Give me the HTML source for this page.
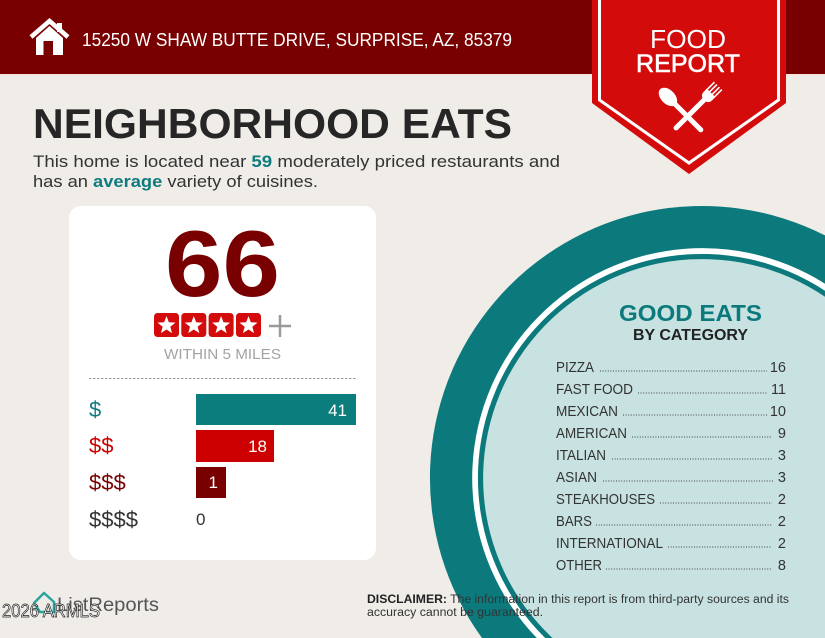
<!DOCTYPE html>
<html><head><meta charset="utf-8"><style>
html,body{margin:0;padding:0;background:#f0ede9;width:825px;height:638px;overflow:hidden;}
svg{display:block;}
text{font-family:"Liberation Sans",sans-serif;}
</style></head><body>
<svg width="825" height="638" viewBox="0 0 825 638" xmlns="http://www.w3.org/2000/svg">
<rect x="0" y="0" width="825" height="638" fill="#f0ede9"/>
<!-- header band -->
<rect x="0" y="0" width="825" height="74" fill="#780000"/>
<rect x="0" y="74" width="825" height="2" fill="#f6e4e0"/>
<!-- house icon -->
<polyline points="31,37 49.5,21 68,37" fill="none" stroke="#fff" stroke-width="4.5" stroke-linejoin="miter"/>
<rect x="57" y="23" width="5" height="9" fill="#fff"/>
<polygon points="36,38 49.5,26 63,38 63,55 36,55" fill="#fff"/>
<rect x="43.5" y="41" width="9.5" height="14" fill="#780000"/>
<text x="82" y="46" font-size="18" fill="#fff" textLength="430" lengthAdjust="spacingAndGlyphs">15250 W SHAW BUTTE DRIVE, SURPRISE, AZ, 85379</text>

<!-- badge -->
<polygon points="592,0 786,0 786,103 689,174 592,103" fill="#d40b0b"/>
<polyline points="599.5,0 599.5,100 689,163 778.5,100 778.5,0" fill="none" stroke="#fff" stroke-width="3"/>
<text x="650" y="48" font-size="26" fill="#fff" textLength="76" lengthAdjust="spacingAndGlyphs">FOOD</text>
<text x="636" y="72" font-size="25" fill="#fff" stroke="#fff" stroke-width="0.6" textLength="104" lengthAdjust="spacingAndGlyphs">REPORT</text>
<!-- spoon -->
<g transform="translate(675,104) rotate(-45)" fill="#fff">
  <ellipse cx="0" cy="-10" rx="7" ry="11"/>
  <rect x="-2.5" y="-2" width="5" height="41" rx="2.5"/>
</g>
<!-- fork -->
<g transform="translate(704,100) rotate(45)" fill="#fff" stroke="#fff">
  <rect x="-2.5" y="-2" width="5" height="44" rx="2.5" stroke="none"/>
  <path d="M-6,-10 L6,-10 L6,-6 Q6,0 0,0 Q-6,0 -6,-6 Z" stroke="none"/>
  <line x1="-5.2" y1="-20" x2="-5.2" y2="-9" stroke-width="1.6"/>
  <line x1="-1.8" y1="-20" x2="-1.8" y2="-9" stroke-width="1.6"/>
  <line x1="1.8" y1="-20" x2="1.8" y2="-9" stroke-width="1.6"/>
  <line x1="5.2" y1="-20" x2="5.2" y2="-9" stroke-width="1.6"/>
</g>

<!-- title and paragraph -->
<text x="33" y="138" font-size="42" font-weight="bold" fill="#262626" textLength="479" lengthAdjust="spacingAndGlyphs">NEIGHBORHOOD EATS</text>
<text x="33" y="167" font-size="16.5" fill="#333" textLength="527" lengthAdjust="spacingAndGlyphs">This home is located near <tspan font-weight="bold" fill="#0e7c7e">59</tspan> moderately priced restaurants and</text>
<text x="33" y="187" font-size="16.5" fill="#333" textLength="285" lengthAdjust="spacingAndGlyphs">has an <tspan font-weight="bold" fill="#0e7c7e">average</tspan> variety of cuisines.</text>

<!-- circle (clipped to frame) -->
<path d="M482,638 A272,272 0 0 1 825,235.4 L825,638 Z" fill="#0c7a7c"/>
<path d="M536.8,638 A230,230 0 0 1 825,283.7 L825,638 Z" fill="#ffffff"/>
<path d="M545.2,638 A224,224 0 0 1 825,290.8 L825,638 Z" fill="#0c7a7c"/>
<path d="M552.5,638 A219,219 0 0 1 825,296.8 L825,638 Z" fill="#c7e2e0"/>

<text x="619" y="321" font-size="23" font-weight="bold" fill="#0c7a7c" textLength="143" lengthAdjust="spacingAndGlyphs">GOOD EATS</text>
<text x="633" y="340" font-size="16" font-weight="bold" fill="#222" textLength="115" lengthAdjust="spacingAndGlyphs">BY CATEGORY</text>

<g font-size="14.5" fill="#333">
<text x="556" y="372" textLength="38" lengthAdjust="spacingAndGlyphs">PIZZA</text>
<text x="786" y="372" text-anchor="end">16</text>
<text x="556" y="394" textLength="77" lengthAdjust="spacingAndGlyphs">FAST FOOD</text>
<text x="786" y="394" text-anchor="end">11</text>
<text x="556" y="416" textLength="62" lengthAdjust="spacingAndGlyphs">MEXICAN</text>
<text x="786" y="416" text-anchor="end">10</text>
<text x="556" y="438" textLength="71" lengthAdjust="spacingAndGlyphs">AMERICAN</text>
<text x="786" y="438" text-anchor="end">9</text>
<text x="556" y="460" textLength="50" lengthAdjust="spacingAndGlyphs">ITALIAN</text>
<text x="786" y="460" text-anchor="end">3</text>
<text x="556" y="482" textLength="41" lengthAdjust="spacingAndGlyphs">ASIAN</text>
<text x="786" y="482" text-anchor="end">3</text>
<text x="556" y="504" textLength="99" lengthAdjust="spacingAndGlyphs">STEAKHOUSES</text>
<text x="786" y="504" text-anchor="end">2</text>
<text x="556" y="526" textLength="36" lengthAdjust="spacingAndGlyphs">BARS</text>
<text x="786" y="526" text-anchor="end">2</text>
<text x="556" y="548" textLength="107" lengthAdjust="spacingAndGlyphs">INTERNATIONAL</text>
<text x="786" y="548" text-anchor="end">2</text>
<text x="556" y="570" textLength="46" lengthAdjust="spacingAndGlyphs">OTHER</text>
<text x="786" y="570" text-anchor="end">8</text>
</g>
<g stroke="#444" stroke-width="1.1" stroke-dasharray="1 1.6">
<line x1="600" y1="371" x2="767" y2="371"/>
<line x1="638" y1="393" x2="768" y2="393"/>
<line x1="623" y1="415" x2="767" y2="415"/>
<line x1="632" y1="437" x2="772" y2="437"/>
<line x1="612" y1="459" x2="773" y2="459"/>
<line x1="603" y1="481" x2="773" y2="481"/>
<line x1="660" y1="503" x2="772" y2="503"/>
<line x1="596" y1="525" x2="772" y2="525"/>
<line x1="668" y1="547" x2="772" y2="547"/>
<line x1="606" y1="569" x2="772" y2="569"/>
</g>

<!-- disclaimer -->
<text x="367" y="603" font-size="11.5" fill="#333" textLength="422" lengthAdjust="spacingAndGlyphs"><tspan font-weight="bold" fill="#222">DISCLAIMER:</tspan> The information in this report is from third-party sources and its</text>
<text x="367" y="616" font-size="11.5" fill="#333" textLength="176" lengthAdjust="spacingAndGlyphs">accuracy cannot be guaranteed.</text>

<!-- card -->
<rect x="69" y="206" width="307" height="354" rx="12" fill="#ffffff"/>
<text x="165" y="296" font-size="94" font-weight="bold" fill="#780000" textLength="115" lengthAdjust="spacingAndGlyphs">66</text>
<defs>
<polygon id="st" points="0,-9.5 2.351,-3.236 9.035,-2.936 3.804,1.236 5.584,7.686 0,4 -5.584,7.686 -3.804,1.236 -9.035,-2.936 -2.351,-3.236" fill="#fff"/>
</defs>
<rect x="154" y="313" width="25" height="24" rx="3.5" fill="#d40b0b"/>
<rect x="181.3" y="313" width="25" height="24" rx="3.5" fill="#d40b0b"/>
<rect x="208.6" y="313" width="25" height="24" rx="3.5" fill="#d40b0b"/>
<rect x="236" y="313" width="25" height="24" rx="3.5" fill="#d40b0b"/>
<use href="#st" x="166.5" y="325.5"/>
<use href="#st" x="193.8" y="325.5"/>
<use href="#st" x="221.1" y="325.5"/>
<use href="#st" x="248.5" y="325.5"/>
<line x1="269" y1="326" x2="291" y2="326" stroke="#9a9a9a" stroke-width="2.5"/>
<line x1="280" y1="315" x2="280" y2="337" stroke="#9a9a9a" stroke-width="2.5"/>
<text x="164" y="359" font-size="15" fill="#a3a3a3" textLength="117" lengthAdjust="spacingAndGlyphs">WITHIN 5 MILES</text>
<line x1="89" y1="378.5" x2="356" y2="378.5" stroke="#999" stroke-width="1" stroke-dasharray="2.5 1.5"/>

<text x="89" y="417" font-size="22" fill="#0e7c7e">$</text>
<text x="89" y="453" font-size="22" fill="#cc0000">$$</text>
<text x="89" y="490" font-size="22" fill="#780000">$$$</text>
<text x="89" y="527" font-size="22" fill="#333">$$$$</text>

<rect x="196" y="394" width="160" height="31" fill="#0b7d7d"/>
<rect x="196" y="430" width="78" height="32" fill="#cc0000"/>
<rect x="196" y="467" width="30" height="31" fill="#780000"/>
<text x="347" y="416" font-size="17" fill="#fff" text-anchor="end">41</text>
<text x="267" y="452" font-size="17" fill="#fff" text-anchor="end">18</text>
<text x="218" y="488" font-size="17" fill="#fff" text-anchor="end">1</text>
<text x="196" y="525" font-size="17" fill="#333">0</text>

<!-- footer logo -->
<path d="M34,603 L44,593 L54,602 L54,612 L40,612 Z" fill="none" stroke="#2aa39e" stroke-width="2.5" stroke-linejoin="round"/>
<text x="57" y="611" font-size="19" fill="#555" textLength="102" lengthAdjust="spacingAndGlyphs">ListReports</text>
<text x="2" y="617" font-size="18" fill="#fff" stroke="#222" stroke-width="0.7" textLength="98" lengthAdjust="spacingAndGlyphs">2026 ARMLS</text>
</svg>
</body></html>
